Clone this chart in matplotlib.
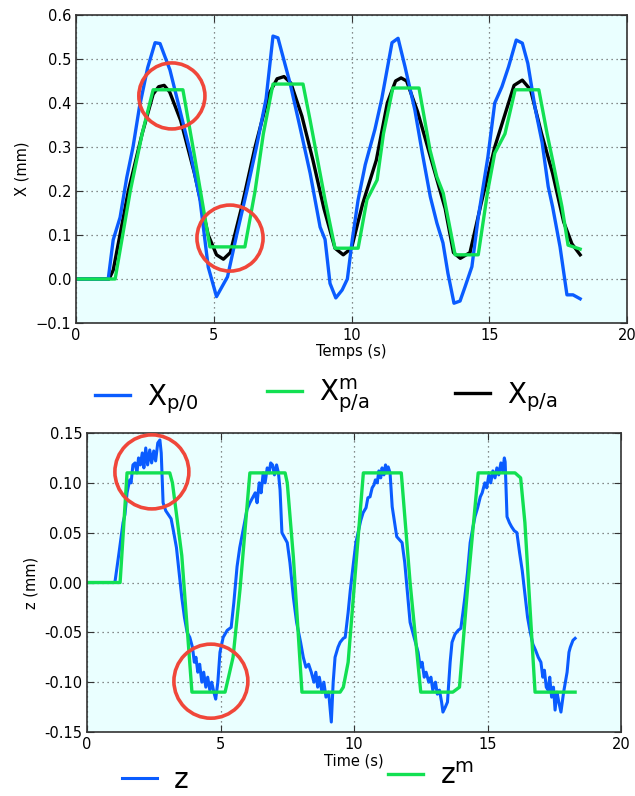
"""Recreate the X / z tracking comparison chart (two stacked panels)."""

import matplotlib

matplotlib.use("Agg")
import matplotlib.pyplot as plt
from matplotlib.patches import Ellipse
from matplotlib.ticker import FormatStrFormatter

# --- top panel: X (mm) vs time (s) ---
x_p0_t = [0, 1.17, 1.35, 1.6, 1.84, 2.07, 2.3, 2.6, 2.87, 3.05, 3.41, 3.77, 4.14, 4.5,
          4.8, 5.1, 5.5, 5.83, 6.2, 6.55, 6.9, 7.15, 7.33, 7.77, 8.13, 8.5, 8.86, 9.04,
          9.22, 9.43, 9.66, 9.85, 10.03, 10.24, 10.5, 10.85, 11.1, 11.47, 11.69, 11.94,
          12.3, 12.57, 12.86, 13.1, 13.32, 13.5, 13.72, 13.94, 14.12, 14.37, 14.6, 14.95,
          15.2, 15.46, 15.7, 15.98, 16.2, 16.4, 16.66, 16.92, 17.14, 17.3, 17.57, 17.82,
          18.04, 18.3]
x_p0 = [0, 0, 0.089, 0.14, 0.23, 0.3, 0.39, 0.48, 0.537, 0.535, 0.475, 0.384, 0.29, 0.18,
        0.027, -0.04, 0.005, 0.1, 0.2, 0.3, 0.41, 0.552, 0.548, 0.445, 0.345, 0.24, 0.118,
        0.09, -0.01, -0.043, -0.025, 0.0, 0.09, 0.18, 0.26, 0.34, 0.41, 0.537, 0.547,
        0.483, 0.384, 0.286, 0.187, 0.127, 0.082, 0.013, -0.055, -0.05, -0.018, 0.028,
        0.14, 0.277, 0.4, 0.437, 0.482, 0.543, 0.536, 0.49, 0.39, 0.31, 0.21, 0.164,
        0.073, -0.036, -0.036, -0.045]

x_pa_m_t = [0, 1.42, 1.97, 2.4, 2.8, 3.88, 4.3, 4.86, 6.13, 6.5, 6.8, 7.15, 8.24, 8.5,
            8.68, 9.04, 9.4, 10.24, 10.56, 10.93, 11.16, 11.5, 12.45, 12.85, 13.1, 13.33,
            13.76, 14.6, 14.95, 15.2, 15.57, 15.94, 16.8, 17.1, 17.3, 17.64, 17.86, 18.3]
x_pa_m = [0, 0, 0.2, 0.33, 0.43, 0.43, 0.28, 0.073, 0.073, 0.2, 0.33, 0.443, 0.443, 0.36,
          0.3, 0.18, 0.07, 0.07, 0.18, 0.225, 0.33, 0.434, 0.434, 0.293, 0.232, 0.195,
          0.055, 0.055, 0.202, 0.286, 0.33, 0.43, 0.43, 0.33, 0.27, 0.164, 0.077, 0.068]

x_pa_t = [0, 1.2, 1.35, 1.9, 2.4, 2.8, 3.0, 3.2, 3.4, 3.8, 4.3, 4.8, 5.1, 5.35, 5.6, 6.0,
          6.5, 7.0, 7.3, 7.55, 7.8, 8.2, 8.6, 9.0, 9.4, 9.7, 10.0, 10.4, 10.9, 11.3, 11.6,
          11.8, 12.0, 12.4, 12.9, 13.4, 13.7, 13.95, 14.3, 14.7, 15.2, 15.6, 15.9, 16.2,
          16.5, 16.9, 17.3, 17.7, 18.0, 18.3]
x_pa = [0, 0, 0.02, 0.2, 0.33, 0.42, 0.437, 0.44, 0.425, 0.36, 0.24, 0.1, 0.055, 0.045,
        0.06, 0.16, 0.3, 0.42, 0.455, 0.46, 0.445, 0.37, 0.27, 0.16, 0.07, 0.055, 0.07,
        0.17, 0.27, 0.4, 0.45, 0.457, 0.45, 0.38, 0.27, 0.16, 0.06, 0.047, 0.06, 0.17,
        0.3, 0.38, 0.44, 0.452, 0.43, 0.33, 0.24, 0.13, 0.08, 0.055]

# --- bottom panel: z (mm) vs time (s) ---
z_t = [0, 1.0, 1.05, 1.2, 1.35, 1.42, 1.5, 1.6, 1.65, 1.72, 1.8, 1.87, 1.93, 2.0, 2.07,
       2.13, 2.2, 2.27, 2.35, 2.42, 2.5, 2.57, 2.65, 2.73, 2.78, 2.85, 2.95, 3.05, 3.15,
       3.25, 3.35, 3.45, 3.55, 3.65, 3.75, 3.85, 3.95, 4.02, 4.08, 4.15, 4.22, 4.3, 4.37,
       4.45, 4.52, 4.6, 4.67, 4.75, 4.82, 4.9, 4.98, 5.1, 5.25, 5.4, 5.5, 5.62, 5.72, 5.8,
       5.9, 5.99, 6.1, 6.22, 6.3, 6.37, 6.45, 6.52, 6.6, 6.67, 6.75, 6.82, 6.88, 6.95,
       7.02, 7.1, 7.17, 7.23, 7.3, 7.4, 7.5, 7.6, 7.73, 7.85, 8.0, 8.1, 8.2, 8.3, 8.4,
       8.5, 8.57, 8.64, 8.7, 8.8, 8.87, 8.95, 9.05, 9.15, 9.22, 9.29, 9.4, 9.48, 9.6,
       9.67, 9.78, 9.86, 9.98, 10.07, 10.15, 10.25, 10.34, 10.45, 10.52, 10.6, 10.68,
       10.75, 10.8, 10.87, 10.93, 11.0, 11.05, 11.12, 11.18, 11.23, 11.28, 11.35, 11.43,
       11.52, 11.6, 11.7, 11.8, 11.9, 12.0, 12.1, 12.2, 12.3, 12.4, 12.48, 12.55, 12.63,
       12.7, 12.8, 12.88, 12.95, 13.05, 13.12, 13.2, 13.28, 13.33, 13.42, 13.5, 13.6,
       13.67, 13.78, 13.9, 14.0, 14.08, 14.15, 14.25, 14.35, 14.45, 14.53, 14.63, 14.73,
       14.8, 14.9, 14.97, 15.05, 15.12, 15.2, 15.28, 15.35, 15.42, 15.5, 15.57, 15.63,
       15.66, 15.73, 15.82, 15.9, 16.0, 16.1, 16.2, 16.3, 16.4, 16.5, 16.6, 16.7, 16.8,
       16.9, 17.0, 17.07, 17.13, 17.2, 17.27, 17.33, 17.4, 17.47, 17.53, 17.6, 17.67,
       17.75, 17.85, 17.98, 18.05, 18.1, 18.2, 18.28]
z = [0, 0, 0.001, 0.03, 0.06, 0.068, 0.09, 0.103, 0.1, 0.118, 0.12, 0.11, 0.125, 0.118,
     0.13, 0.115, 0.135, 0.118, 0.133, 0.12, 0.132, 0.122, 0.14, 0.143, 0.13, 0.08, 0.072,
     0.068, 0.064, 0.05, 0.035, 0.01, -0.015, -0.035, -0.05, -0.055, -0.065, -0.08,
     -0.075, -0.09, -0.082, -0.1, -0.09, -0.105, -0.095, -0.108, -0.1, -0.11, -0.117,
     -0.1, -0.07, -0.055, -0.048, -0.045, -0.02, 0.016, 0.035, 0.046, 0.06, 0.073, 0.08,
     0.086, 0.09, 0.08, 0.1, 0.09, 0.11, 0.1, 0.115, 0.11, 0.12, 0.118, 0.108, 0.118,
     0.11, 0.093, 0.05, 0.045, 0.04, 0.02, -0.015, -0.04, -0.06, -0.075, -0.085, -0.082,
     -0.09, -0.1, -0.09, -0.105, -0.095, -0.11, -0.1, -0.115, -0.11, -0.14, -0.1, -0.075,
     -0.065, -0.06, -0.056, -0.055, -0.03, -0.008, 0.02, 0.04, 0.05, 0.062, 0.07, 0.075,
     0.085, 0.086, 0.095, 0.098, 0.103, 0.1, 0.112, 0.105, 0.115, 0.108, 0.118, 0.11,
     0.116, 0.11, 0.076, 0.06, 0.046, 0.043, 0.04, 0.02, -0.01, -0.04, -0.05, -0.06,
     -0.07, -0.085, -0.08, -0.095, -0.09, -0.1, -0.095, -0.108, -0.1, -0.112, -0.108,
     -0.12, -0.13, -0.125, -0.12, -0.08, -0.06, -0.052, -0.048, -0.046, -0.03, -0.015,
     0.01, 0.04, 0.055, 0.066, 0.075, 0.086, 0.09, 0.1, 0.095, 0.108, 0.1, 0.112, 0.105,
     0.115, 0.108, 0.12, 0.112, 0.125, 0.121, 0.066, 0.06, 0.056, 0.052, 0.05, 0.03,
     0.012, -0.012, -0.035, -0.05, -0.062, -0.068, -0.075, -0.08, -0.095, -0.088, -0.105,
     -0.108, -0.095, -0.115, -0.105, -0.128, -0.11, -0.12, -0.13, -0.11, -0.09, -0.07,
     -0.065, -0.058, -0.056]

z_m_t = [0, 1.24, 1.5, 3.1, 3.2, 3.55, 3.93, 5.17, 5.3, 5.47, 5.73, 6.1, 7.42, 7.5, 7.73,
         8.05, 9.48, 9.6, 9.78, 10.1, 10.35, 11.77, 12.1, 12.5, 13.7, 13.95, 14.27, 14.65,
         16.03, 16.24, 16.4, 16.78, 18.28]
z_m = [0, 0, 0.11, 0.11, 0.1, 0.027, -0.11, -0.11, -0.095, -0.075, -0.007, 0.11, 0.11,
       0.1, 0.025, -0.11, -0.11, -0.105, -0.08, 0.027, 0.11, 0.11, 0.0, -0.11, -0.11,
       -0.105, 0.0, 0.11, 0.11, 0.105, 0.06, -0.11, -0.11]

# highlighted regions: (centre time, centre value, width in s, height in mm)
top_marks = [(3.48, 0.416, 2.4, 0.15), (5.59, 0.093, 2.4, 0.15)]
bottom_marks = [(2.43, 0.111, 2.77, 0.0743), (4.64, -0.099, 2.77, 0.0743)]

BLUE = "#0a5cff"
GREEN = "#12e052"
RED = "#f0473a"
FACE = "#eaffff"


def style_axes(ax, ylim, yticks):
    ax.set_facecolor(FACE)
    ax.set_xlim(0, 20)
    ax.set_ylim(*ylim)
    ax.set_xticks([0, 5, 10, 15, 20])
    ax.set_yticks(yticks)
    ax.grid(True, linestyle=(0, (1, 3)), color="#666666", linewidth=0.9)
    ax.tick_params(direction="in", top=True, right=True, length=5, labelsize=10.5,
                   color="#333333")
    for spine in ax.spines.values():
        spine.set_color("#333333")
        spine.set_linewidth(1.2)


def add_marks(ax, marks):
    for cx, cy, w, h in marks:
        ax.add_patch(Ellipse((cx, cy), w, h, fill=False, edgecolor=RED, linewidth=2.6,
                             zorder=5))


def add_entry(fig, line, x_px, y_px):
    """One legend entry, its handle starting at the given figure pixel."""
    fig.legend([line], [line.get_label()], loc="center left",
               bbox_to_anchor=(x_px / 635, 1 - y_px / 796), frameon=False,
               fontsize=20, handlelength=1.26, handletextpad=0.6, borderpad=0,
               borderaxespad=0)


def main():
    plt.rcParams["mathtext.default"] = "regular"
    fig = plt.figure(figsize=(6.35, 7.96), dpi=100)

    ax1 = fig.add_axes([0.1197, 0.5942, 0.8677, 0.387])
    l_p0, = ax1.plot(x_p0_t, x_p0, color=BLUE, linewidth=2.4, label="$X_{p/0}$")
    l_pam, = ax1.plot(x_pa_m_t, x_pa_m, color=GREEN, linewidth=2.4, label="$X_{p/a}^{m}$")
    l_pa, = ax1.plot(x_pa_t, x_pa, color="black", linewidth=2.4, label="$X_{p/a}$",
                     zorder=1.9)
    style_axes(ax1, (-0.1, 0.6), [-0.1, 0.0, 0.1, 0.2, 0.3, 0.4, 0.5, 0.6])
    ax1.set_xlabel("Temps (s)", fontsize=10.5, labelpad=1)
    ax1.set_ylabel("X (mm)", fontsize=10.5)
    add_marks(ax1, top_marks)
    add_entry(fig, l_p0, 95, 399)
    add_entry(fig, l_pam, 267, 396)
    add_entry(fig, l_pa, 455, 397)

    ax2 = fig.add_axes([0.137, 0.0804, 0.841, 0.3756])
    l_z, = ax2.plot(z_t, z, color=BLUE, linewidth=2.2, label="z")
    l_zm, = ax2.plot(z_m_t, z_m, color=GREEN, linewidth=2.4, label="$z^{m}$")
    style_axes(ax2, (-0.15, 0.15), [-0.15, -0.10, -0.05, 0.0, 0.05, 0.10, 0.15])
    ax2.yaxis.set_major_formatter(FormatStrFormatter("%.2f"))
    ax2.set_xlabel("Time (s)", fontsize=10.5, labelpad=1)
    ax2.set_ylabel("z (mm)", fontsize=10.5)
    add_marks(ax2, bottom_marks)
    add_entry(fig, l_z, 122, 780)
    add_entry(fig, l_zm, 388, 776)

    fig.savefig("out.png", dpi=100)
    plt.close(fig)


if __name__ == "__main__":
    main()
